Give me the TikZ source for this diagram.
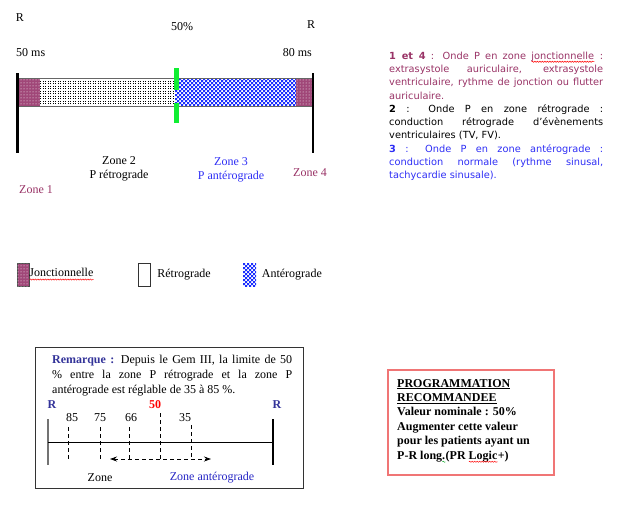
\documentclass[tikz,border=0pt]{standalone}
\usepackage{fontspec}
\setmainfont{Liberation Serif}
\newfontfamily\notefont{DejaVu Sans}
\usetikzlibrary{arrows.meta,positioning,patterns,decorations.pathmorphing}
\definecolor{zoneInk}{HTML}{000000}
\definecolor{zonePurple}{HTML}{993366}
\definecolor{zoneMagenta}{HTML}{A04778}
\definecolor{zoneBlue}{HTML}{2E2EF5}
\definecolor{zoneCheck}{HTML}{1A2EFF}
\definecolor{zoneNavy}{HTML}{333399}
\definecolor{zoneGreen}{HTML}{11EE33}
\definecolor{zoneGray}{HTML}{666666}
\definecolor{zoneSalmon}{HTML}{F07575}
\definecolor{zoneRed}{HTML}{FF0000}
\newsavebox\wavebox
\newlength\wavewidth
\newcommand\spellwave[2][red]{\sbox\wavebox{#2}\setlength\wavewidth{\wd\wavebox}%
  \leavevmode\rlap{\usebox\wavebox}\tikz[baseline=0pt]\draw[#1, line width=0.5pt, decorate,
    decoration={snake, amplitude=0.6pt, segment length=2.5pt}] (0pt,-2.6pt) -- (\wavewidth,-2.6pt);}
\newcommand\checkerzone[4]{%
  \pgfmathtruncatemacro\ckNextX{#1+4}\pgfmathtruncatemacro\ckNextY{#2+4}%
  \begin{scope}
    \clip (#1,#2) rectangle (#3,#4);
    \fill[white] (#1,#2) rectangle (#3,#4);
    \fill[zoneCheck] \foreach \cx in {#1,\ckNextX,...,#3} {\foreach \cy in {#2,\ckNextY,...,#4}
      {(\cx,\cy) rectangle ++(2,2) (\cx+2,\cy+2) rectangle ++(2,2)}};
  \end{scope}}
\pgfdeclarepatternformonly{fine dots}{\pgfqpoint{-0.1pt}{-0.1pt}}{\pgfqpoint{2.6pt}{2.6pt}}{\pgfqpoint{2.5pt}{2.5pt}}{%
  \pgfpathrectangle{\pgfpointorigin}{\pgfqpoint{1pt}{1pt}}\pgfusepath{fill}}
\tikzset{
  every picture/.style={font=\fontsize{12}{14}\selectfont, text=zoneInk},
  zone jonction/.style={fill=zoneMagenta, postaction={pattern=dots, pattern color=white}},
  zone retro/.style={fill=white, postaction={pattern=fine dots, pattern color=black}},
  bar edge/.style={draw=zoneGray, line width=1pt},
  bar stop/.style={draw=zoneInk, line width=2.5pt},
  limit mark/.style={draw=zoneGreen, line width=5pt},
  legend key/.style={minimum width=12pt, minimum height=23pt, inner sep=0pt},
  note text/.style={anchor=north west, inner sep=0pt, text width=214pt, align=justify,
    font=\notefont\fontsize{9.8}{13.3}\selectfont},
  remark frame/.style={draw=zoneInk!80, line width=0.9pt},
  remark mark/.style={inner sep=0pt, font=\bfseries\fontsize{12}{14}\selectfont},
  prog frame/.style={draw=zoneSalmon, line width=1.3pt},
  level tick/.style={draw=zoneInk, line width=0.8pt, dash pattern=on 4pt off 3pt},
  shift arrow/.style={{Stealth[length=7pt,width=5pt]}-{Stealth[length=7pt,width=5pt]},
    draw=zoneInk, line width=0.8pt, dash pattern=on 4pt off 3pt}
}
\begin{document}
\begin{tikzpicture}[x=1pt,y=-1pt]
  \useasboundingbox (0,0) rectangle (624,512);
  \begin{scope}
    \fill[zone jonction] (19,78) rectangle (40,106);
    \fill[zone retro] (40,78) rectangle (175,106);
    \checkerzone{175}{78}{296}{106}
    \fill[zone jonction] (296,78) rectangle (313,106);
    \draw[bar edge] (17,78) -- (313,78) (17,106) -- (313,106);
    \draw[bar stop] (17.5,73) -- (17.5,153);
    \draw[bar stop] (313,73) -- (313,153);
    \draw[limit mark] (176.5,68) -- (176.5,90) (176.5,103) -- (176.5,123);
    \node (rLeft) at (20,18) {R};
    \node (pct) at (182,27) {50\%};
    \node (rRight) at (311,25) {R};
    \node[anchor=west, inner sep=0pt] (ms50) at (16,53) {50 ms};
    \node[anchor=east, inner sep=0pt] (ms80) at (312,53) {80 ms};
    \node[align=center, inner sep=0pt] (zone2) at (119,169) {Zone 2\\P rétrograde};
    \node[align=center, inner sep=0pt, text=zoneBlue] (zone3) at (231,169.5) {Zone 3\\P antérograde};
    \node[inner sep=0pt, text=zonePurple] (zone4) at (310,173) {Zone 4};
    \node[inner sep=0pt, text=zonePurple] (zone1) at (36,190) {Zone 1};
  \end{scope}
  \node[note text] (note) at (389,51.5) {%
    \textcolor{zonePurple}{\textbf{1 et 4} : Onde P en zone \spellwave{jonctionnelle} :\linebreak
    extrasystole auriculaire, extrasystole\linebreak
    ventriculaire, rythme de jonction ou flutter\linebreak
    auriculaire.}\par
    \textbf{2} : Onde P en zone rétrograde :\linebreak
    conduction rétrograde d’évènements\linebreak
    ventriculaires (TV, FV).\par
    \textcolor{zoneBlue}{\textbf{3} : Onde P en zone antérograde :\linebreak
    conduction normale (rythme sinusal,\linebreak
    tachycardie sinusale).}};
  \begin{scope}
    \node[legend key, zone jonction, draw=zoneInk!70] (keyJ) at (23,274.5) {};
    \node[right=0pt of keyJ, inner sep=0pt] (txtJ) {\spellwave{Jonctionnelle}};
    \node[legend key, draw=zoneInk!80, fill=white] (keyR) at (144,274.5) {};
    \node[right=7pt of keyR, inner sep=0pt] (txtR) {Rétrograde};
    \checkerzone{243}{263}{256}{286}
    \node[legend key] (keyA) at (249.5,274.5) {};
    \node[right=6pt of keyA, inner sep=0pt] (txtA) {Antérograde};
  \end{scope}
  \begin{scope}
    \draw[remark frame] (35,347) rectangle (303,488);
    \node[anchor=north west, inner sep=0pt, text width=240pt, align=justify,
      font=\fontsize{12}{15}\selectfont] (remark) at (52,355) {%
      \textcolor{zoneNavy}{\textbf{Remarque :}} Depuis le Gem III, la limite de 50\linebreak
      \% entre la zone P rétrograde et la zone P\linebreak
      antérograde est réglable de 35 à 85 \%.};
    \node[remark mark, text=zoneNavy] (remR1) at (52,405) {R};
    \node[remark mark, text=zoneRed] (rem50) at (155,405) {50};
    \node[remark mark, text=zoneNavy] (remR2) at (277,405) {R};
    \node[inner sep=0pt] (lv85) at (72,418) {85};
    \node[inner sep=0pt] (lv75) at (100,418) {75};
    \node[inner sep=0pt] (lv66) at (131,418) {66};
    \node[inner sep=0pt] (lv35) at (185,418) {35};
    \draw[draw=zoneInk!55, line width=2pt] (48,419) -- (48,465);
    \draw[draw=zoneInk, line width=1.2pt] (273,419) -- (273,465);
    \draw[draw=zoneInk, line width=0.9pt] (48,442) -- (273,442);
    \draw[level tick] (68,427) -- (68,460);
    \draw[level tick] (100,427) -- (100,460);
    \draw[level tick] (129,427) -- (129,459);
    \draw[level tick] (160,413) -- (160,459);
    \draw[level tick] (191,425) -- (191,458);
    \coordinate (arrL) at (110,459);
    \coordinate (arrR) at (211,459);
    \draw[shift arrow] (arrL) -- (arrR);
    \node[inner sep=0pt] (remZone) at (100,478) {Zone};
    \node[inner sep=0pt, text=zoneBlue!80!black] (remAntero) at (212,478) {Zone antérograde};
  \end{scope}
  \begin{scope}
    \draw[prog frame] (388,370) rectangle (554,475);
    \node[anchor=north west, inner sep=0pt, align=left,
      font=\bfseries\fontsize{12}{14.4}\selectfont] (prog) at (397,379) {%
      \underline{PROGRAMMATION}\\
      \underline{RECOMMANDEE}\\
      Valeur nominale : 50\%\\
      Augmenter cette valeur\\
      pour les patients ayant un\\
      P-R long\spellwave[zoneGreen!70!black]{.}(PR \spellwave{Logic}+)};
  \end{scope}
\end{tikzpicture}
\end{document}
